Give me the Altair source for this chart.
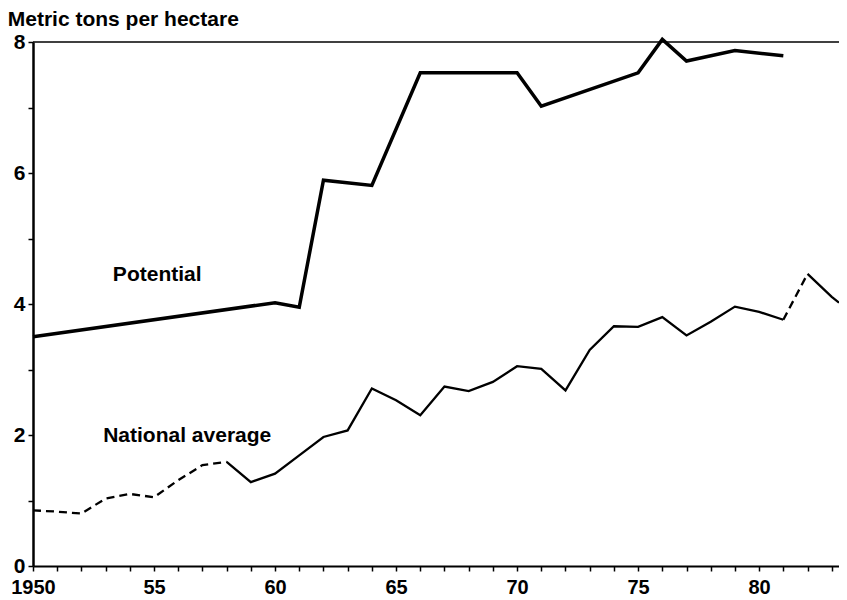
import altair as alt
import pandas as pd

# ---- data ----
pot_years = [1950, 1960, 1961, 1962, 1964, 1966, 1970, 1971, 1975, 1976, 1977, 1979, 1981]
pot_values = [3.50, 4.02, 3.95, 5.89, 5.81, 7.53, 7.53, 7.02, 7.53, 8.04, 7.71, 7.87, 7.79]

nat_years = list(range(1950, 1984)) + [1983.3]
nat_values = [0.85, 0.83, 0.80, 1.03, 1.10, 1.05, 1.31, 1.54, 1.59, 1.28,
              1.41, 1.69, 1.97, 2.07, 2.71, 2.53, 2.30, 2.74, 2.67, 2.81,
              3.05, 3.01, 2.68, 3.30, 3.66, 3.65, 3.80, 3.52, 3.73, 3.96,
              3.88, 3.76, 4.46, 4.11, 4.02]

# line style segments of the national average (start, end, dashed)
nat_segments = [(1950, 1958, True), (1958, 1981, False), (1981, 1982, True), (1982, 1983.3, False)]

x_ticks = list(range(1950, 1984))
y_ticks = [0, 1, 2, 3, 4, 5, 6, 7, 8]

label_texts = ["Potential", "National average"]
label_x = [1953.3, 1952.9]
label_y = [4.35, 1.89]

FONT = "Liberation Sans"

pot_df = pd.DataFrame({"year": pot_years, "value": pot_values})
rows = []
for i, (a, b, dashed) in enumerate(nat_segments):
    for yr, v in zip(nat_years, nat_values):
        if a <= yr <= b:
            rows.append({"year": yr, "value": v, "seg": i, "dashed": dashed})
nat_df = pd.DataFrame(rows)
lab_df = pd.DataFrame({"year": label_x, "value": label_y, "text": label_texts})
top_df = pd.DataFrame({"value": [8]})

x_scale = alt.Scale(domain=[1950, 1983.3], nice=False, zero=False)
y_scale = alt.Scale(domain=[0, 8], nice=False)

x_axis = alt.Axis(
    values=x_ticks,
    labelExpr="datum.value % 5 == 0 ? (datum.value == 1950 ? '1950' : substring(toString(datum.value), 2, 4)) : ''",
    tickSize=5, labelPadding=6, domainWidth=2, labelFlush=False, labelOverlap=False,
    labelBound=False, labelFontSize=20, grid=False,
)
y_axis = alt.Axis(
    values=y_ticks, format="d",
    labelExpr="datum.value % 2 == 0 ? datum.label : ''",
    tickSize=5, labelPadding=3, domainWidth=2.5, labelOverlap=False, grid=False,
)


def xe():
    return alt.X("year:Q", scale=x_scale, title=None, axis=x_axis)


def ye():
    return alt.Y("value:Q", scale=y_scale, title=None, axis=y_axis)


potential = alt.Chart(pot_df).mark_line(color="black", strokeWidth=3.5, strokeJoin="miter").encode(
    x=xe(), y=ye()
)

nat_solid = alt.Chart(nat_df[~nat_df["dashed"]]).mark_line(color="black", strokeWidth=2.3).encode(
    x=xe(), y=ye(), detail="seg:N"
)
nat_dashed = alt.Chart(nat_df[nat_df["dashed"]]).mark_line(
    color="black", strokeWidth=2.3, strokeDash=[8, 5]
).encode(x=xe(), y=ye(), detail="seg:N")

top_rule = alt.Chart(top_df).mark_rule(color="black", strokeWidth=1.5).encode(y=ye())

labels = alt.Chart(lab_df).mark_text(
    align="left", baseline="alphabetic", font=FONT, fontSize=21, fontWeight="bold", color="black"
).encode(x=xe(), y=ye(), text="text:N")

chart = alt.layer(potential, nat_dashed, nat_solid, top_rule, labels).properties(
    width=806,
    height=524,
    autosize=alt.AutoSizeParams(type="none"),
    padding={"left": 25, "top": 34, "right": 0, "bottom": 34},
    title=alt.TitleParams(
        "Metric tons per hectare", anchor="start", font=FONT, fontSize=21,
        fontWeight="bold", color="black", offset=1, dx=-3,
    ),
).configure(background="white").configure_view(stroke=None).configure_axis(
    grid=False, labelFont=FONT, labelFontSize=21, labelFontWeight="bold",
    labelColor="black", domainColor="black", tickColor="black", tickWidth=1.5,
    labelOverlap=False,
)

chart.save("out.html", embed_options={"renderer": "svg", "actions": False})
